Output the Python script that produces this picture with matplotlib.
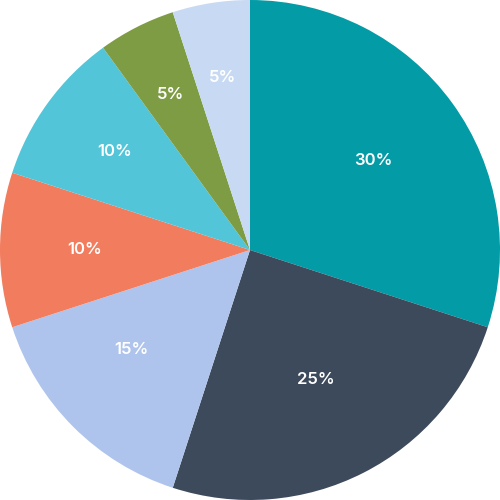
import numpy as np
import matplotlib.pyplot as plt

shares = [30, 25, 15, 10, 10, 5, 5]
colors = ['#039BA6', '#3D4A5C', '#AFC4EC', '#F27C5E', '#52C5D9', '#7E9C44', '#C8DAF3']
label_radius = [0.61, 0.58, 0.62, 0.66, 0.67, 0.70, 0.70]
label_shift = [0, 0, -5, 0, 0, 0, 0]  # degrees off the bisector

fig = plt.figure(figsize=(5, 5), dpi=100)
ax = fig.add_axes([0, 0, 1, 1])
wedges, texts, autotexts = ax.pie(
    shares, colors=colors, startangle=90, counterclock=False,
    radius=1.0, autopct='%d%%', pctdistance=0.62,
    wedgeprops=dict(linewidth=0),
    textprops=dict(color='white', fontsize=12, fontweight='semibold', family=['Inter', 'DejaVu Sans']))

# nudge each label along its wedge bisector
for w, t, r, s in zip(wedges, autotexts, label_radius, label_shift):
    ang = np.deg2rad((w.theta1 + w.theta2) / 2 + s)
    t.set_position((r * np.cos(ang), r * np.sin(ang)))

ax.set_xlim(-1, 1)
ax.set_ylim(-1, 1)
ax.set_aspect('equal')
ax.axis('off')
fig.savefig('out.png', dpi=100, facecolor='white')
